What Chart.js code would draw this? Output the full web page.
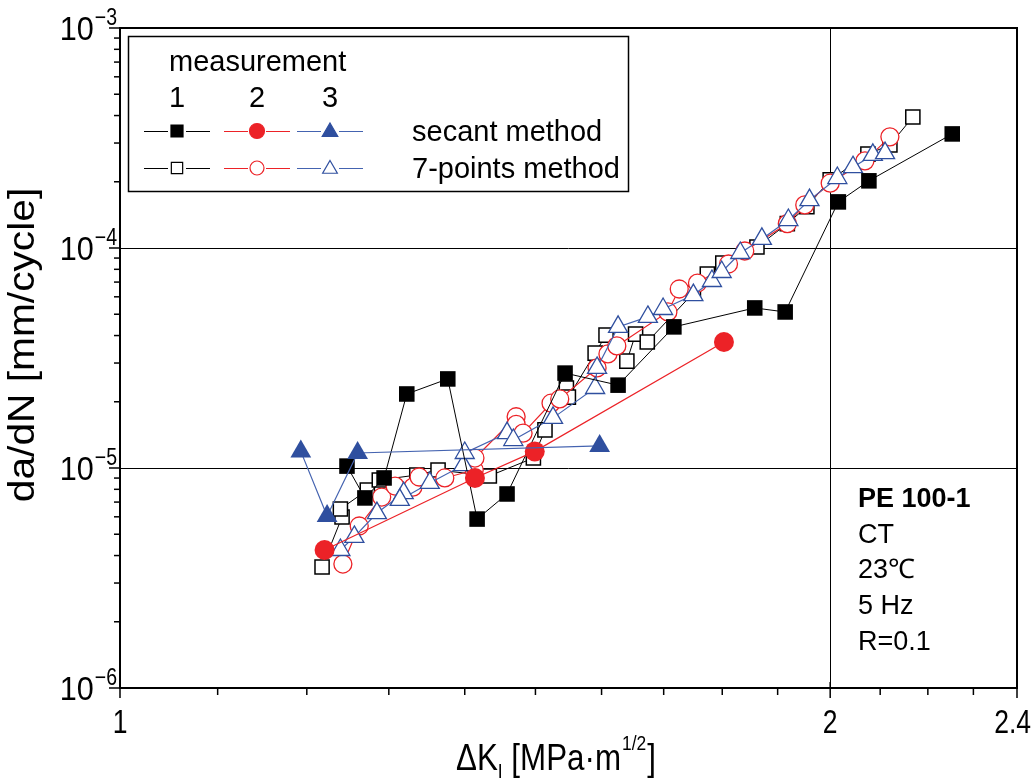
<!DOCTYPE html>
<html>
<head>
<meta charset="utf-8">
<script src="https://cdn.jsdelivr.net/npm/chart.js@4/dist/chart.umd.min.js"></script>
<style>
  body{margin:0;background:#fff}
  #wrap{width:1034px;height:778px}
</style>
</head>
<body>
<div id="wrap"><canvas id="chart" width="1034" height="778"></canvas></div>
<script>
// axis ticks
const xTicks = [1,1.1,1.2,1.3,1.4,1.5,1.6,1.7,1.8,1.9,2,2.1,2.2,2.3,2.4];
const xLabelValues = [1,2,2.4];
const xLabelTexts = ['1','2','2.4'];
const xGridValues = [2];
const yTicks = [1e-6,2e-6,3e-6,4e-6,5e-6,6e-6,7e-6,8e-6,9e-6,
  1e-5,2e-5,3e-5,4e-5,5e-5,6e-5,7e-5,8e-5,9e-5,
  1e-4,2e-4,3e-4,4e-4,5e-4,6e-4,7e-4,8e-4,9e-4,1e-3];
const yLabelValues = [1e-6,1e-5,1e-4,1e-3];
const yLabelExps = ['\u22126','\u22125','\u22124','\u22123'];
const yGridValues = [1e-5,1e-4];

// secant method
const m1SecK = [1.248,1.270,1.294,1.323,1.377,1.417,1.459,1.544,1.626,1.717,1.858,1.914,2.016,2.077,2.253];
const m1SecRate = [1.02e-5,7.31e-6,9.01e-6,2.17e-5,2.54e-5,5.86e-6,7.62e-6,2.70e-5,2.38e-5,4.38e-5,5.34e-5,5.12e-5,1.62e-4,2.02e-4,3.30e-4];
const m2SecK = [1.221,1.414,1.499,1.803];
const m2SecRate = [4.24e-6,9.01e-6,1.19e-5,3.74e-5];
const m3SecK = [1.193,1.224,1.261,1.597];
const m3SecRate = [1.19e-5,6.05e-6,1.17e-5,1.26e-5];

// 7-points method
const m1SevK = [1.218,1.242,1.240,1.273,1.288,1.336,1.364,1.434,1.497,1.514,1.546,1.549,1.590,1.607,1.640,1.654,1.673,1.750,1.774,1.801,1.862,1.918,1.955,2.000,2.075,2.120,2.168];
const m1SevRate = [3.55e-6,5.99e-6,6.51e-6,7.94e-6,8.82e-6,9.29e-6,9.79e-6,9.20e-6,1.11e-5,1.49e-5,2.31e-5,2.10e-5,3.33e-5,4.02e-5,3.06e-5,4.06e-5,3.74e-5,6.24e-5,7.62e-5,8.55e-5,1.01e-4,1.29e-4,1.54e-4,2.04e-4,2.67e-4,2.94e-4,3.94e-4];
const m2SevK = [1.243,1.263,1.291,1.308,1.331,1.339,1.373,1.413,1.414,1.472,1.472,1.482,1.523,1.536,1.593,1.610,1.624,1.707,1.726,1.757,1.811,1.840,1.918,1.951,2.000,2.069,2.120];
const m2SevRate = [3.66e-6,5.45e-6,7.38e-6,8.28e-6,8.19e-6,9.10e-6,9.01e-6,9.79e-6,1.11e-5,1.71e-5,1.58e-5,1.44e-5,1.97e-5,2.06e-5,2.85e-5,3.30e-5,3.59e-5,5.12e-5,6.51e-5,6.93e-5,8.46e-5,9.69e-5,1.29e-4,1.57e-4,1.97e-4,2.49e-4,3.20e-4];
const m3SevK = [1.240,1.257,1.285,1.319,1.314,1.353,1.398,1.400,1.459,1.468,1.526,1.590,1.593,1.626,1.674,1.699,1.750,1.782,1.799,1.832,1.871,1.920,1.960,2.014,2.045,2.085,2.110];
const m3SevRate = [4.24e-6,4.86e-6,6.24e-6,7.69e-6,7.16e-6,8.55e-6,1.03e-5,1.17e-5,1.44e-5,1.34e-5,1.69e-5,2.31e-5,2.85e-5,4.38e-5,4.86e-5,5.28e-5,6.11e-5,7.08e-5,7.78e-5,9.49e-5,1.10e-4,1.34e-4,1.65e-4,2.08e-4,2.33e-4,2.65e-4,2.70e-4];

const legendTitle = 'measurement';
const legendNums = ['1','2','3'];
const legendRows = ['secant method','7-points method'];
const noteLines = ['PE 100-1','CT','23\u2103','5 Hz','R=0.1'];

const BLACK = '#000000', RED = '#ec2227', BLUE = '#2f4f9f', BLUE_LINE = '#4463b0';
const FONT = '"Liberation Sans", Arial, Helvetica, sans-serif';

function pts(xs, ys){ return xs.map((v,i)=>({x:v, y:ys[i]})); }

function series(label, xs, ys, opt){
  return {
    label, data: pts(xs, ys), showLine: true,
    borderColor: opt.line, borderWidth: opt.lw || 1,
    pointStyle: opt.style, pointRadius: opt.r, pointHoverRadius: opt.r,
    pointBackgroundColor: opt.fill, pointBorderColor: opt.color,
    pointBorderWidth: opt.bw, order: opt.order, clip: false
  };
}

const near = (a,b) => Math.abs(a/b - 1) < 1e-6;

function txt(ctx, s, x, y, size, o){
  o = o || {};
  ctx.save();
  ctx.font = (o.bold ? 'bold ' : '') + size + 'px ' + FONT;
  ctx.fillStyle = '#000';
  ctx.translate(x, y);
  if(o.rot) ctx.rotate(o.rot);
  ctx.scale(o.sx || 1, 1);
  ctx.textAlign = o.align || 'left';
  ctx.textBaseline = 'alphabetic';
  ctx.fillText(s, 0, 0);
  ctx.restore();
}
function tw(ctx, s, size, sx){
  ctx.save(); ctx.font = size + 'px ' + FONT;
  const w = ctx.measureText(s).width * (sx || 1);
  ctx.restore(); return w;
}

const decor = {
  id: 'decor',
  afterDraw(chart){
    const {ctx, chartArea: a, scales: {x, y}} = chart;
    ctx.save();
    ctx.strokeStyle = '#000';
    // frame
    ctx.lineWidth = 2;
    ctx.strokeRect(a.left, a.top, a.right - a.left, a.bottom - a.top);
    // y tick marks
    ctx.lineWidth = 1.5;
    yTicks.forEach(v => {
      const py = y.getPixelForValue(v);
      const major = yLabelValues.some(m => near(m, v));
      ctx.beginPath(); ctx.moveTo(a.left - (major ? 11 : 6), py); ctx.lineTo(a.left, py); ctx.stroke();
    });
    // x tick marks
    xTicks.forEach(v => {
      const px = x.getPixelForValue(v);
      const major = xLabelValues.some(m => near(m, v));
      ctx.beginPath(); ctx.moveTo(px, a.bottom - (major ? 6 : 0)); ctx.lineTo(px, a.bottom + (major ? 10 : 7)); ctx.stroke();
    });
    // y tick labels 10^n
    yLabelValues.forEach((v,i) => {
      const py = y.getPixelForValue(v);
      const w2 = tw(ctx, yLabelExps[i], 23, 0.85);
      const w1 = tw(ctx, '10', 34, 0.9);
      const right = a.left - 3;
      txt(ctx, '10', right - w2 - w1 - 1, py + 12, 34, {sx: 0.9});
      txt(ctx, yLabelExps[i], right - w2, py - 3, 23, {sx: 0.85});
    });
    // x tick labels
    xLabelValues.forEach((v,i) => {
      const px = x.getPixelForValue(v);
      const last = i === xLabelValues.length - 1;
      txt(ctx, xLabelTexts[i], last ? chart.width - 3 : px, a.bottom + 45, 34, {sx: 0.78, align: last ? 'right' : 'center'});
    });
    // x title: ΔK_I [MPa·m^(1/2)]
    {
      const sx = 0.87, base = 770;
      let cx = 456;
      txt(ctx, '\u0394K', cx, base, 36, {sx}); cx += tw(ctx, '\u0394K', 36, sx);
      txt(ctx, 'I', cx, base + 8, 20, {sx}); cx += tw(ctx, 'I', 20, sx);
      txt(ctx, ' [MPa\u00b7m', cx, base, 36, {sx}); cx += tw(ctx, ' [MPa\u00b7m', 36, sx);
      txt(ctx, '1/2', cx + 1, base - 20, 20, {sx}); cx += tw(ctx, '1/2', 20, sx) + 2;
      txt(ctx, ']', cx, base, 36, {sx});
    }
    // y title
    txt(ctx, 'da/dN [mm/cycle]', 34, 345, 37, {rot: -Math.PI/2, align: 'center', sx: 1.1});

    // legend box
    ctx.fillStyle = '#fff';
    ctx.fillRect(128, 36, 500, 155);
    ctx.lineWidth = 1.5;
    ctx.strokeRect(128.5, 36.5, 500, 155);
    txt(ctx, legendTitle, 169, 71, 29);
    const cols = [177, 257, 330];
    legendNums.forEach((s,i) => txt(ctx, s, cols[i], 107, 29, {align: 'center'}));
    const rowsY = [131, 168];
    legendRows.forEach((s,i) => txt(ctx, s, 412, rowsY[i] + 10, 29));
    const styles = [
      [{c: BLACK, l: BLACK, st: 'rect', r: 8.5, f: BLACK}, {c: RED, l: RED, st: 'circle', r: 7.5, f: RED}, {c: BLUE, l: BLUE_LINE, st: 'triangle', r: 9, f: BLUE}],
      [{c: BLACK, l: BLACK, st: 'rect', r: 8, f: '#fff'}, {c: RED, l: RED, st: 'circle', r: 7, f: '#fff'}, {c: BLUE, l: BLUE_LINE, st: 'triangle', r: 8.5, f: '#fff'}]
    ];
    rowsY.forEach((ry, r) => {
      cols.forEach((cx, c) => {
        const s = styles[r][c];
        ctx.strokeStyle = s.l; ctx.lineWidth = 1.2;
        ctx.beginPath();
        ctx.moveTo(cx - 33, ry + 0.5); ctx.lineTo(cx - 9, ry + 0.5);
        ctx.moveTo(cx + 9, ry + 0.5); ctx.lineTo(cx + 33, ry + 0.5);
        ctx.stroke();
        ctx.fillStyle = s.f; ctx.strokeStyle = s.c; ctx.lineWidth = 1.2;
        Chart.helpers.drawPoint(ctx, {pointStyle: s.st, radius: s.r, rotation: 0, borderWidth: 1.2}, cx, ry + (s.st === 'triangle' ? 1 : 0));
      });
    });

    // note text
    noteLines.forEach((s,i) => txt(ctx, s, 858, 507 + i * 35.7, 27, {bold: i === 0}));
    ctx.restore();
  }
};

new Chart(document.getElementById('chart'), {
  type: 'scatter',
  data: { datasets: [
    series('1 secant', m1SecK, m1SecRate, {line: BLACK, color: BLACK, fill: BLACK, style: 'rect', r: 11, bw: 0, order: 3}),
    series('2 secant', m2SecK, m2SecRate, {line: RED, color: RED, fill: RED, style: 'circle', r: 10, bw: 0, order: 2, lw: 1.2}),
    series('3 secant', m3SecK, m3SecRate, {line: BLUE_LINE, color: BLUE, fill: BLUE, style: 'triangle', r: 12, bw: 0, order: 1, lw: 1.2}),
    series('1 7-points', m1SevK, m1SevRate, {line: BLACK, color: BLACK, fill: '#fff', style: 'rect', r: 10, bw: 1.5, order: 6}),
    series('2 7-points', m2SevK, m2SevRate, {line: RED, color: RED, fill: '#fff', style: 'circle', r: 9, bw: 1.3, order: 5, lw: 1.2}),
    series('3 7-points', m3SevK, m3SevRate, {line: BLUE_LINE, color: BLUE, fill: '#fff', style: 'triangle', r: 11, bw: 1.3, order: 4, lw: 1.2})
  ]},
  options: {
    responsive: false, animation: false, events: [],
    layout: { padding: { left: 120, top: 28, right: 17, bottom: 90 } },
    plugins: { legend: { display: false }, tooltip: { enabled: false } },
    scales: {
      x: {
        type: 'logarithmic', min: 1, max: 2.4,
        afterBuildTicks: s => { s.ticks = xTicks.map(v => ({value: v})); },
        ticks: { display: false },
        border: { display: false },
        grid: { drawTicks: false, lineWidth: 1, color: c => xGridValues.some(g => near(g, c.tick.value)) ? '#000' : 'rgba(0,0,0,0)' }
      },
      y: {
        type: 'logarithmic', min: 1e-6, max: 1e-3,
        afterBuildTicks: s => { s.ticks = yTicks.map(v => ({value: v})); },
        ticks: { display: false },
        border: { display: false },
        grid: { drawTicks: false, lineWidth: 1, color: c => yGridValues.some(g => near(g, c.tick.value)) ? '#000' : 'rgba(0,0,0,0)' }
      }
    }
  },
  plugins: [decor]
});
</script>
</body>
</html>
